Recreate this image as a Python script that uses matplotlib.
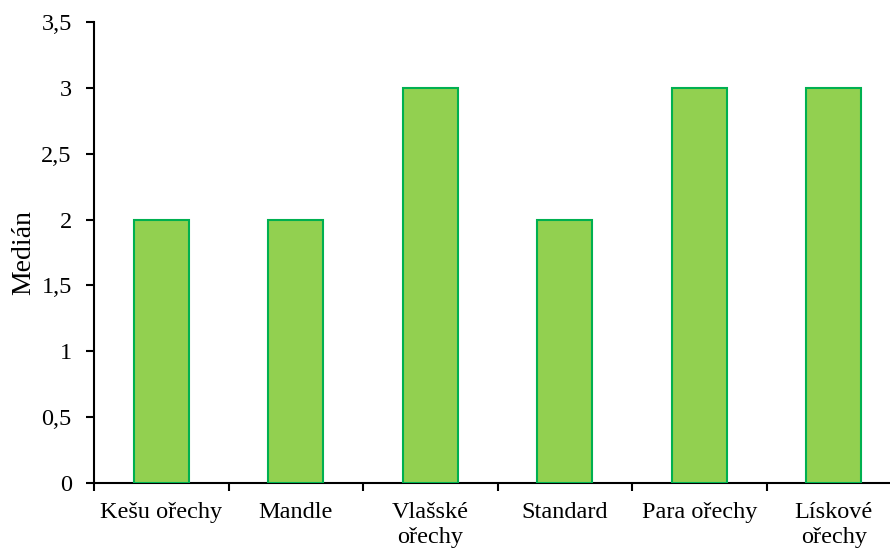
import matplotlib
matplotlib.use("Agg")
import matplotlib.pyplot as plt
import numpy as np

categories = ["Kešu ořechy", "Mandle", "Vlašské\nořechy", "Standard", "Para ořechy", "Lískové\nořechy"]
values = [2, 2, 3, 2, 3, 3]
yticks = [0, 0.5, 1, 1.5, 2, 2.5, 3, 3.5]
ytick_labels = ["0", "0,5", "1", "1,5", "2", "2,5", "3", "3,5"]

plt.rcParams['font.family'] = ['Liberation Serif', 'DejaVu Serif']

fig = plt.figure(figsize=(8.9, 5.49), dpi=100)
ax = fig.add_axes([94/890, (549-483)/549, 807/890, (483-22)/549])

x = np.arange(len(categories))
ax.bar(x, values, width=0.41, color="#92D050", edgecolor="#00B050", linewidth=1.5, zorder=3)

ax.set_xlim(-0.5, len(categories) - 0.5)
ax.set_ylim(0, 3.5)
ax.set_yticks(yticks)
ax.set_yticklabels(ytick_labels, fontsize=17.5)
ax.set_xticks(x)
ax.set_xticklabels(categories, fontsize=17.5, linespacing=1.2)
ax.set_xticks(np.arange(len(categories) + 1) - 0.5, minor=True)
ax.tick_params(axis='x', which='major', length=0, pad=14)
ax.tick_params(axis='x', which='minor', length=6, width=1.5, direction='out')
ax.tick_params(axis='y', length=6, width=1.5, direction='out', pad=10)

ax.spines['top'].set_visible(False)
ax.spines['right'].set_visible(False)
ax.spines['left'].set_linewidth(1.5)
ax.spines['bottom'].set_linewidth(1.5)
ax.set_ylabel("Medián", fontsize=20, labelpad=4)

fig.savefig("out.png", dpi=100)
